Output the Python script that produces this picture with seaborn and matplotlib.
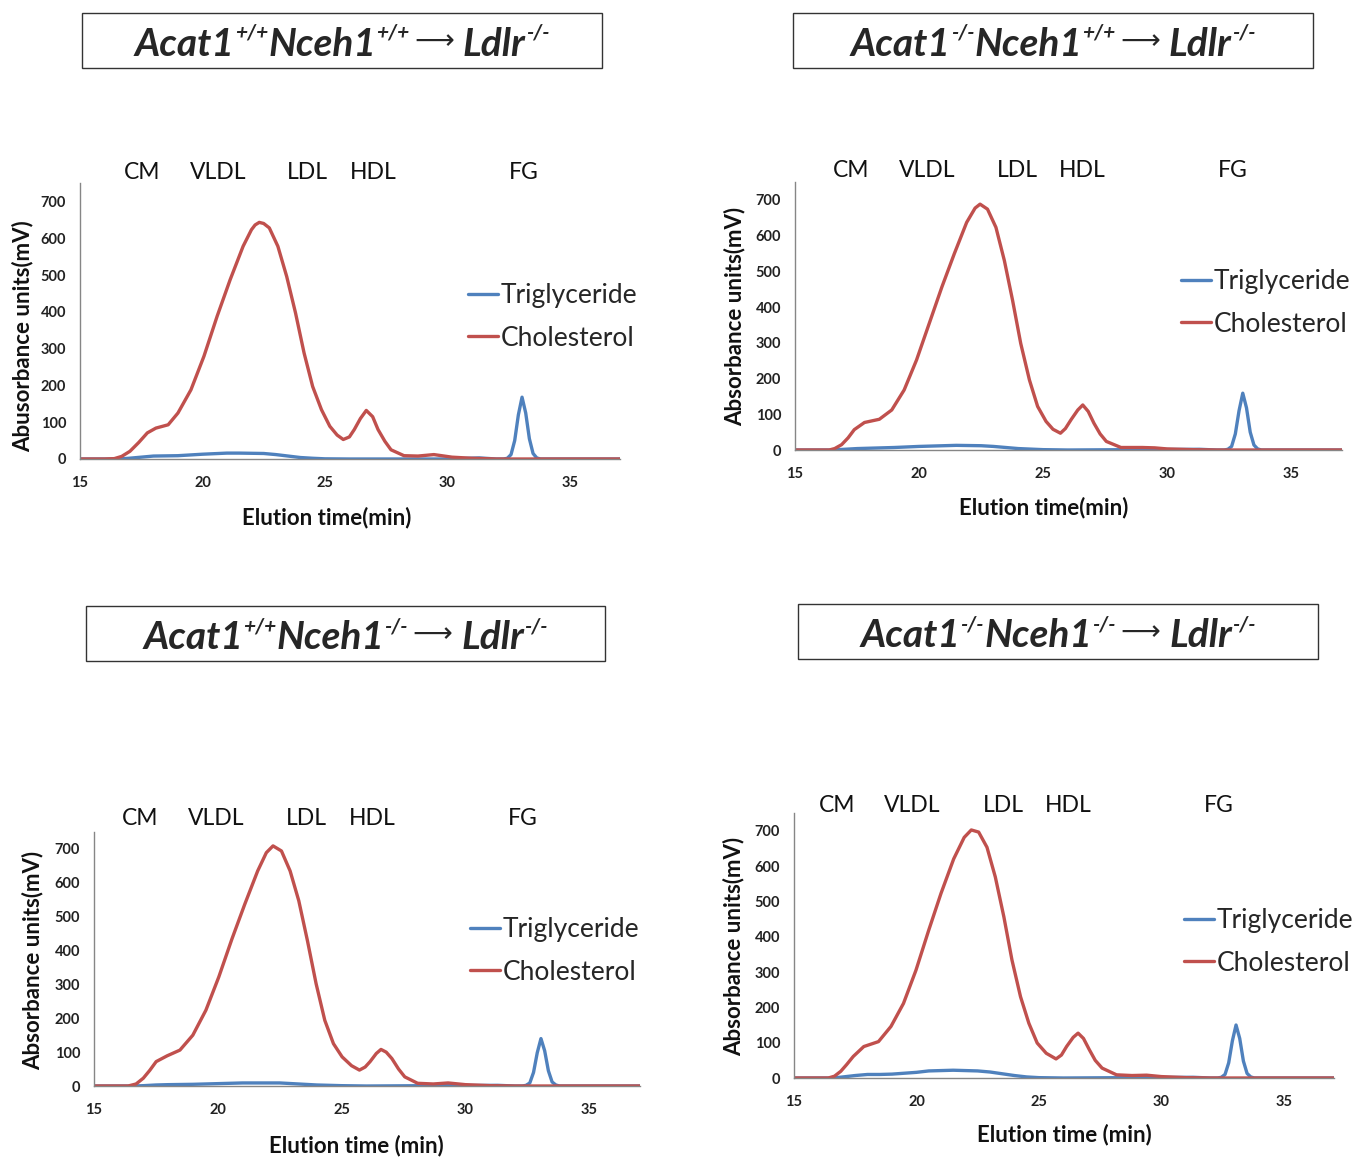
import matplotlib
matplotlib.use("Agg")
import matplotlib.pyplot as plt
import seaborn as sns
from matplotlib.patches import Rectangle

# ---- data (elution time in min, signal in mV) ----
chol_t1 = [15, 16, 16.4, 16.7, 17.04, 17.4, 17.75, 18.1, 18.6, 19.0, 19.53, 20.06, 20.6, 21.13,
           21.66, 22.0, 22.15, 22.32, 22.5, 22.73, 23.08, 23.44, 23.8, 24.15, 24.5, 24.86, 25.2,
           25.5, 25.75, 26.0, 26.2, 26.45, 26.69, 26.95, 27.17, 27.45, 27.7, 28.23, 28.8, 29.45,
           30.19, 31, 32, 37.05]
chol_v1 = [0, 0, 1, 7, 21, 45, 71, 84, 93, 125, 188, 279, 388, 487,
           578, 623, 636, 643, 640, 628, 578, 496, 397, 288, 197, 134, 89,
           65, 53, 60, 80, 110, 132, 115, 80, 48, 25, 9, 8, 12,
           5, 2, 0, 0]
tg_t1 = [15, 16.6, 17.0, 17.5, 18, 19, 20, 21, 21.5, 22.5, 23, 23.5, 24, 24.5, 25, 26, 29, 30,
         31.3, 32, 32.3, 32.45, 32.6, 32.75, 32.9, 33.05, 33.2, 33.35, 33.5, 33.65, 33.8, 37.05]
tg_v1 = [0, 0, 2, 5, 8, 9, 13, 16, 16, 15, 12, 8, 4, 2, 0.5, 0, 0, 0,
         3, 0, 0, 2, 12, 50, 120, 168, 125, 55, 15, 3, 0, 0]

chol_t2 = [15, 16.38, 16.6, 16.88, 17.14, 17.39, 17.8, 18.4, 18.9, 19.4, 19.9, 20.41, 20.92,
           21.42, 21.92, 22.26, 22.46, 22.76, 23.1, 23.44, 23.77, 24.1, 24.45, 24.78, 25.12,
           25.4, 25.7, 25.9, 26.13, 26.4, 26.6, 26.82, 27.05, 27.3, 27.55, 28.14, 29.0, 29.5,
           30, 31, 32, 37.05]
chol_v2 = [0, 0, 4, 15, 34, 57, 77, 86, 112, 168, 252, 354, 456,
           549, 637, 677, 688, 674, 623, 530, 419, 298, 196, 122, 80,
           58, 47, 60, 85, 112, 126, 108, 75, 45, 24, 7, 7, 6,
           3, 1, 0, 0]
tg_t2 = [15, 16.5, 17.0, 17.5, 18, 19, 20, 21, 21.5, 22.5, 23, 23.5, 24, 25, 26, 31.3, 32,
         32.3, 32.45, 32.6, 32.75, 32.9, 33.05, 33.2, 33.35, 33.5, 33.65, 33.8, 37.05]
tg_v2 = [0, 0, 2, 4, 5, 7, 10, 12, 13, 12, 10, 7, 4, 1, 0, 2, 0,
         0, 2, 10, 45, 110, 159, 118, 50, 14, 3, 0, 0]

chol_t3 = [15, 16.38, 16.7, 16.99, 17.25, 17.51, 17.95, 18.47, 18.99, 19.52, 20.04, 20.57,
           21.09, 21.61, 21.96, 22.23, 22.57, 22.92, 23.27, 23.62, 23.97, 24.32, 24.67, 25.02,
           25.4, 25.72, 25.95, 26.15, 26.4, 26.59, 26.8, 27.03, 27.3, 27.55, 28.07, 28.7, 29.3,
           30, 31, 32, 37.05]
chol_v3 = [0, 0, 6, 23, 46, 72, 89, 106, 150, 224, 322, 434,
           537, 635, 689, 709, 694, 635, 547, 429, 302, 194, 125, 86,
           60, 47, 56, 72, 96, 108, 100, 81, 50, 27, 8, 6, 9,
           4, 1, 0, 0]
tg_t3 = [15, 16.6, 17.0, 17.5, 18, 19, 20, 21, 22, 22.5, 23, 23.5, 24, 25, 26, 31.3, 32,
         32.3, 32.45, 32.6, 32.75, 32.9, 33.05, 33.2, 33.35, 33.5, 33.65, 33.8, 37.05]
tg_v3 = [0, 0, 1, 3, 4, 5, 7, 9, 9, 9, 7, 5, 3, 1, 0, 2, 0,
         0, 2, 9, 40, 98, 140, 104, 45, 12, 3, 0, 0]

chol_t4 = [15, 16.4, 16.65, 16.91, 17.15, 17.42, 17.85, 18.45, 18.96, 19.47, 19.98, 20.5, 21.0,
           21.52, 21.95, 22.24, 22.54, 22.88, 23.22, 23.57, 23.9, 24.25, 24.59, 24.93, 25.3,
           25.7, 25.92, 26.13, 26.4, 26.6, 26.82, 27.06, 27.3, 27.58, 28.17, 28.8, 29.4,
           30, 31, 32, 37.05]
chol_v4 = [0, 0, 5, 19, 38, 61, 89, 103, 146, 211, 305, 418, 522,
           620, 681, 702, 696, 653, 569, 456, 334, 230, 155, 99, 70,
           54, 65, 89, 115, 127, 112, 80, 50, 28, 9, 7, 8,
           4, 1, 0, 0]
tg_t4 = [15, 16.6, 17.0, 17.5, 18, 18.5, 19, 20, 20.5, 21.5, 22.5, 23, 23.5, 24, 24.5, 25, 26,
         31.3, 32, 32.3, 32.45, 32.6, 32.75, 32.9, 33.05, 33.2, 33.35, 33.5, 33.65, 33.8, 37.05]
tg_v4 = [0, 0, 3, 7, 10, 10, 11, 16, 20, 22, 20, 17, 12, 7, 3, 1, 0,
         2, 0, 0, 2, 10, 43, 105, 150, 112, 48, 13, 3, 0, 0]

fractions = ["CM", "VLDL", "LDL", "HDL", "FG"]
# genotype per panel: (Acat1, Nceh1) superscripts, recipient is always Ldlr-/-
acat1_geno = ["+/+", "-/-", "+/+", "-/-"]
nceh1_geno = ["+/+", "+/+", "-/-", "-/-"]
ylabels = ["Abusorbance units(mV)", "Absorbance units(mV)",
           "Absorbance units(mV)", "Absorbance units(mV)"]
xlabels = ["Elution time(min)", "Elution time(min)",
           "Elution time (min)", "Elution time (min)"]
series = [(tg_t1, tg_v1, chol_t1, chol_v1), (tg_t2, tg_v2, chol_t2, chol_v2),
          (tg_t3, tg_v3, chol_t3, chol_v3), (tg_t4, tg_v4, chol_t4, chol_v4)]

# ---- layout (pixels in a 1354x1157 canvas) ----
W, H = 1354, 1157
# axes: left, right, bottom, top
axes_px = [(80, 620, 459, 183), (795, 1342, 450, 182),
           (94, 640, 1086, 832), (794, 1334, 1078, 813)]
# title boxes: left, right, top, bottom
box_px = [(82, 602, 13, 68), (793, 1313, 13, 68),
          (86, 605, 606, 661), (798, 1318, 604, 659)]
frac_x = [[17.53, 20.63, 24.3, 26.96, 33.1], [17.26, 20.32, 23.95, 26.57, 32.66],
          [16.86, 19.93, 23.57, 26.23, 32.33], [16.76, 19.82, 23.53, 26.18, 32.35]]
frac_y = [778, 781, 791, 771]
legend_px = [(468, 283), (1181, 269), (470, 917), (1184, 908)]
ylab_pos = [(-0.087, 0.446), (-0.091, 0.50), (-0.093, 0.496), (-0.091, 0.498)]
xlab_pos = [(0.457, -0.174), (0.455, -0.175), (0.48, -0.193), (0.50, -0.174)]

sns.set_style("white")
plt.rcParams['font.family'] = ['Lato', 'DejaVu Sans']

fig = plt.figure(figsize=(W / 100, H / 100), dpi=100)
renderer = fig.canvas.get_renderer()
blue = "#4F81BD"
red = "#C0504D"
grey = "#868686"


def draw_title(cx, baseline, a_geno, n_geno):
    # main text, raised genotype superscripts, a thin arrow
    pieces = [("Acat1", "main"), (a_geno, "sup"), ("Nceh1", "main"), (n_geno, "sup"),
              ("\u27f6", "arrow"), ("Ldlr", "main"), ("-/-", "sup")]
    gaps_before = [0, 0, 0, 0, 5, 9, 0]
    objs = []
    for txt, kind in pieces:
        if kind == "main":
            t = fig.text(0, 0, txt, fontsize=28, fontweight='bold', fontstyle='italic')
        elif kind == "sup":
            t = fig.text(0, 0, txt, fontsize=15, fontweight='bold', fontstyle='italic')
        else:
            t = fig.text(0, 0, txt, fontsize=20, family=['DejaVu Sans'])
        t.set_va('baseline')
        objs.append((t, kind))
    widths = [t.get_window_extent(renderer).width for t, _ in objs]
    total = sum(widths) + sum(gaps_before)
    x = cx - total / 2
    for (t, kind), w, g in zip(objs, widths, gaps_before):
        x += g
        if kind == "main":
            y = baseline
        elif kind == "sup":
            y = baseline - 17
        else:
            y = baseline - 7
        t.set_position((x / W, 1 - y / H))
        x += w


for i in range(4):
    l, r, b, t = axes_px[i]
    ax = fig.add_axes([l / W, 1 - b / H, (r - l) / W, (b - t) / H])
    tg_t, tg_v, ch_t, ch_v = series[i]
    sns.lineplot(x=tg_t, y=tg_v, ax=ax, color=blue, lw=2.4, label="Triglyceride")
    sns.lineplot(x=ch_t, y=ch_v, ax=ax, color=red, lw=2.4, label="Cholesterol")
    ax.set_xlim(15, 37.05)
    ax.set_ylim(0, 750)
    ax.set_xticks([15, 20, 25, 30, 35])
    ax.set_yticks(range(0, 701, 100))
    for s in ["top", "right"]:
        ax.spines[s].set_visible(False)
    for s in ["left", "bottom"]:
        ax.spines[s].set_color(grey)
        ax.spines[s].set_linewidth(1.0)
    ax.tick_params(axis='y', direction='out', length=4, color=grey, labelsize=10.5, pad=6)
    ax.tick_params(axis='x', direction='in', length=4, color=grey, labelsize=10.5, pad=12)
    for lab in ax.get_xticklabels() + ax.get_yticklabels():
        lab.set_fontweight('bold')
        lab.set_color('#222222')
    ax.set_xlabel(xlabels[i], fontsize=16, fontweight='bold', color='#111111')
    ax.set_ylabel(ylabels[i], fontsize=16, fontweight='bold', color='#111111')
    ax.xaxis.set_label_coords(*xlab_pos[i])
    ax.yaxis.set_label_coords(*ylab_pos[i])
    for name, fx in zip(fractions, frac_x[i]):
        ax.text(fx, frac_y[i], name, ha='center', va='center', fontsize=16.5,
                color='#111111', clip_on=False)
    lx, ly = legend_px[i]
    ax.legend(loc='upper left', bbox_to_anchor=((lx - l) / (r - l), (b - ly) / (b - t)),
              frameon=False, fontsize=19, handlelength=1.15, handletextpad=0.1,
              labelspacing=0.67, borderpad=0, borderaxespad=0)

    bl, br, bt, bb = box_px[i]
    fig.patches.append(Rectangle((bl / W, 1 - bb / H), (br - bl) / W, (bb - bt) / H,
                                 transform=fig.transFigure, fill=False,
                                 edgecolor='#333333', lw=1.0))
    draw_title((bl + br) / 2, bt + 43, acat1_geno[i], nceh1_geno[i])

fig.savefig("out.png", dpi=100)
